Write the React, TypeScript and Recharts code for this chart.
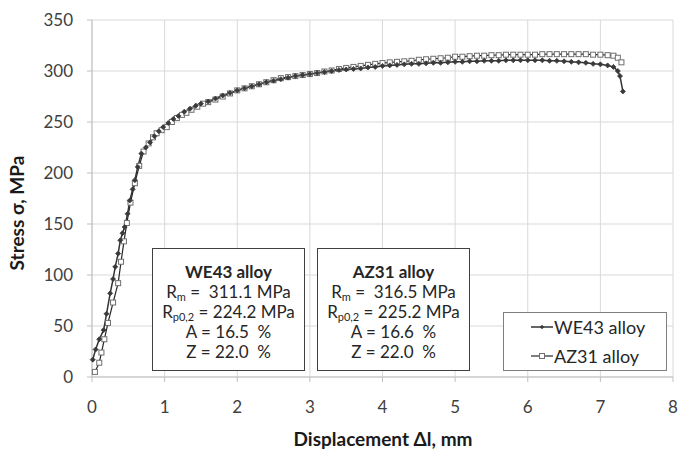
import React from "react";
import { LineChart, Line, XAxis, YAxis, CartesianGrid } from "recharts";

const xTicks = [0, 1, 2, 3, 4, 5, 6, 7, 8];
const yTicks = [0, 50, 100, 150, 200, 250, 300, 350];

const we43X = [
  0.01, 0.05, 0.1, 0.16, 0.2, 0.25, 0.29, 0.32, 0.36, 0.39, 0.42, 0.45, 0.49, 0.52, 0.56, 0.59, 0.63, 0.68,
  0.74, 0.8, 0.86, 0.92, 0.98, 1.05, 1.12, 1.19, 1.27, 1.35, 1.43, 1.5, 1.6, 1.7, 1.8, 1.9, 2.0, 2.1, 2.2,
  2.3, 2.4, 2.5, 2.6, 2.7, 2.8, 2.9, 3.0, 3.1, 3.2, 3.3, 3.4, 3.5, 3.6, 3.7, 3.8, 3.9, 4.0, 4.1, 4.2, 4.3,
  4.4, 4.5, 4.6, 4.7, 4.8, 4.9, 5.0, 5.1, 5.2, 5.3, 5.4, 5.5, 5.6, 5.7, 5.8, 5.9, 6.0, 6.1, 6.2, 6.3, 6.4,
  6.5, 6.6, 6.7, 6.8, 6.9, 7.0, 7.1, 7.18, 7.24, 7.27, 7.31,
];
const we43Y = [
  17, 27, 37, 46, 62, 82, 96, 108, 121, 134, 141, 147, 160, 173, 184, 193, 206, 219, 225, 230, 236, 241, 245,
  249, 253, 256, 260, 263, 266, 268, 270, 273, 276, 278.5, 281, 283, 285, 287, 289, 290.5, 292, 293.5, 295,
  296, 297, 298, 299, 300, 301, 301.5, 302, 302.5, 303.5, 304, 305, 305.5, 306, 306.5, 307, 307, 307.5, 308,
  308, 308.5, 309, 309, 309.5, 309.5, 310, 310, 310, 310.5, 310.5, 310.5, 310.5, 310.5, 310.5, 310, 310,
  309.5, 309, 308.5, 308, 307, 306.5, 305.5, 304, 300, 295, 280,
];

const az31X = [
  0.04, 0.1, 0.13, 0.17, 0.22, 0.29, 0.36, 0.4, 0.44, 0.48, 0.53, 0.59, 0.65, 0.71, 0.78, 0.84, 0.89, 0.96,
  1.03, 1.1, 1.17, 1.24, 1.3, 1.37, 1.45, 1.53, 1.6, 1.7, 1.8, 1.9, 2.0, 2.1, 2.2, 2.3, 2.4, 2.5, 2.6, 2.7,
  2.8, 2.9, 3.0, 3.1, 3.2, 3.3, 3.4, 3.5, 3.6, 3.7, 3.8, 3.9, 4.0, 4.1, 4.2, 4.3, 4.4, 4.5, 4.6, 4.7, 4.8,
  4.9, 5.0, 5.1, 5.2, 5.3, 5.4, 5.5, 5.6, 5.7, 5.8, 5.9, 6.0, 6.1, 6.2, 6.3, 6.4, 6.5, 6.6, 6.7, 6.8, 6.9,
  7.0, 7.1, 7.18, 7.24, 7.29,
];
const az31Y = [
  5, 14, 24, 37, 53, 73, 92, 113, 133, 151, 171, 190, 207, 221, 229, 235, 239, 242, 245, 250, 254, 257, 259,
  262, 265, 268, 269.5, 272, 275, 278, 281, 283, 285, 287, 289, 291, 293, 294, 295, 296, 297, 298, 299.5,
  300.5, 302, 303, 304, 305, 306, 307, 307.8, 308.5, 309, 309.5, 310, 311, 311.5, 312, 312.5, 313, 314, 314,
  314.5, 315, 315, 315.5, 315.5, 316, 316, 316, 316, 316, 316.5, 316.5, 316.5, 316.5, 316.5, 316.5, 316.5,
  316, 316, 315.5, 315, 313, 308.5,
];

const we43Data = we43X.map((x, i) => ({ x, y: we43Y[i] }));
const az31Data = az31X.map((x, i) => ({ x, y: az31Y[i] }));

const FONT = "Lato, 'Open Sans', sans-serif";

const Diamond = (props: any) => {
  const { cx, cy, index } = props;
  if (cx == null || cy == null) return <g key={index} />;
  const r = 2.5;
  return (
    <polygon
      key={index}
      points={`${cx},${cy - r} ${cx + r},${cy} ${cx},${cy + r} ${cx - r},${cy}`}
      fill="#3a3a3a"
      stroke="#3a3a3a"
      strokeWidth={0.8}
    />
  );
};

const Square = (props: any) => {
  const { cx, cy, index } = props;
  if (cx == null || cy == null) return <g key={index} />;
  const s = 5;
  return (
    <rect key={index} x={cx - s / 2} y={cy - s / 2} width={s} height={s} fill="#ffffff" stroke="#6e6e6e" strokeWidth={1} />
  );
};

const boxStyle: React.CSSProperties = {
  position: "absolute",
  border: "1px solid #404040",
  background: "#ffffff",
  fontFamily: FONT,
  fontSize: 17,
  color: "#262626",
  textAlign: "center",
  boxSizing: "border-box",
  lineHeight: "20px",
  paddingTop: 13,
};

const subStyle: React.CSSProperties = { fontSize: 11, verticalAlign: "-3px", lineHeight: 0 };

const PropBox = ({ left, title, rm, rp, a, z }: any) => (
  <div style={{ ...boxStyle, left, top: 248, width: 153, height: 123 }}>
    <div style={{ fontWeight: 700 }}>{title}</div>
    <div>
      R<span style={subStyle}>m</span> = &nbsp;{rm} MPa
    </div>
    <div>
      R<span style={subStyle}>p0,2</span> = {rp} MPa
    </div>
    <div>A = {a} &nbsp;%</div>
    <div>Z = {z} &nbsp;%</div>
  </div>
);

export default function App() {
  return (
    <div style={{ position: "relative", width: 678, height: 451, background: "#ffffff" }}>
      <style>{`body{margin:0}`}</style>
      <LineChart width={678} height={451} margin={{ top: 20, right: 5, bottom: 0, left: 0 }}>
        <CartesianGrid stroke="#d9d9d9" strokeWidth={1} />
        <XAxis
          dataKey="x"
          type="number"
          domain={[0, 8]}
          ticks={xTicks}
          allowDuplicatedCategory={false}
          height={74}
          stroke="#bfbfbf"
          tickSize={5}
          tickMargin={19}
          tick={{ fill: "#404040", fontSize: 17, fontFamily: FONT }}
          label={{
            content: () => (
              <text x={383} y={446} textAnchor="middle" fill="#1a1a1a" fontSize={19} fontWeight={700} fontFamily={FONT}>
                Displacement Δl, mm
              </text>
            ),
          }}
        />
        <YAxis
          dataKey="y"
          type="number"
          domain={[0, 350]}
          ticks={yTicks}
          width={92}
          stroke="#bfbfbf"
          tickSize={5}
          tickMargin={14}
          tick={{ fill: "#404040", fontSize: 17, fontFamily: FONT }}
          label={{
            content: () => (
              <text
                x={24}
                y={213}
                transform="rotate(-90 24 213)"
                textAnchor="middle"
                fill="#1a1a1a"
                fontSize={19}
                fontWeight={700}
                fontFamily={FONT}
              >
                Stress σ, MPa
              </text>
            ),
          }}
        />
        <Line
          data={az31Data}
          dataKey="y"
          name="AZ31 alloy"
          stroke="#262626"
          strokeWidth={1.2}
          dot={Square}
          activeDot={false}
          isAnimationActive={false}
        />
        <Line
          data={we43Data}
          dataKey="y"
          name="WE43 alloy"
          stroke="#333333"
          strokeWidth={1.5}
          dot={Diamond}
          activeDot={false}
          isAnimationActive={false}
        />
      </LineChart>

      <PropBox left={152} title="WE43 alloy" rm="311.1" rp="224.2" a="16.5" z="22.0" />
      <PropBox left={317} title="AZ31 alloy" rm="316.5" rp="225.2" a="16.6" z="22.0" />

      <div
        style={{
          position: "absolute",
          left: 503,
          top: 312,
          width: 164,
          height: 59,
          border: "1px solid #7f7f7f",
          background: "#ffffff",
          boxSizing: "border-box",
          fontFamily: FONT,
          fontSize: 18,
          color: "#262626",
        }}
      >
        <div style={{ position: "absolute", left: 27, top: 2, display: "flex", alignItems: "center", height: 24 }}>
          <svg width={22} height={10} style={{ marginRight: 1 }}>
            <line x1={0} y1={5} x2={22} y2={5} stroke="#333" strokeWidth={1.5} />
            <polygon points="11,2.8 13.2,5 11,7.2 8.8,5" fill="#3a3a3a" />
          </svg>
          <span>WE43 alloy</span>
        </div>
        <div style={{ position: "absolute", left: 27, top: 31, display: "flex", alignItems: "center", height: 24 }}>
          <svg width={22} height={10} style={{ marginRight: 1 }}>
            <line x1={0} y1={5} x2={22} y2={5} stroke="#262626" strokeWidth={1.2} />
            <rect x={8.5} y={2.5} width={5} height={5} fill="#fff" stroke="#6e6e6e" />
          </svg>
          <span>AZ31 alloy</span>
        </div>
      </div>
    </div>
  );
}
